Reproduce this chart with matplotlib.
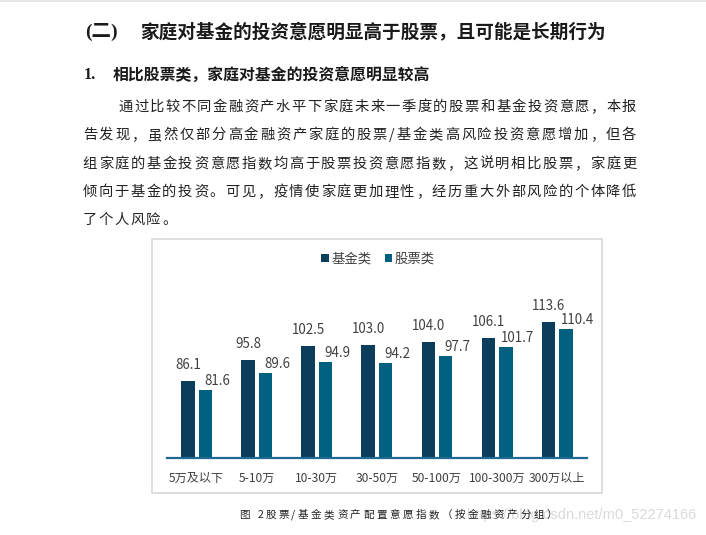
import matplotlib
matplotlib.use("Agg")
import matplotlib.pyplot as plt
import numpy as np
from matplotlib.patches import Rectangle, Patch
from matplotlib.lines import Line2D

plt.rcParams['font.family'] = ['Noto Sans CJK SC', 'DejaVu Sans']

categories = ["5万及以下", "5-10万", "10-30万", "30-50万", "50-100万", "100-300万", "300万以上"]
fund = [86.1, 95.8, 102.5, 103.0, 104.0, 106.1, 113.6]
stock = [81.6, 89.6, 94.9, 94.2, 97.7, 101.7, 110.4]
series_names = ["基金类", "股票类"]

heading_num = "(二)"
heading = "家庭对基金的投资意愿明显高于股票，且可能是长期行为"
sub_num = "1."
subheading = "相比股票类，家庭对基金的投资意愿明显较高"
para_lines = [
    "通过比较不同金融资产水平下家庭未来一季度的股票和基金投资意愿，本报",
    "告发现，虽然仅部分高金融资产家庭的股票/基金类高风险投资意愿增加，但各",
    "组家庭的基金投资意愿指数均高于股票投资意愿指数，这说明相比股票，家庭更",
    "倾向于基金的投资。可见，疫情使家庭更加理性，经历重大外部风险的个体降低",
    "了个人风险。",
]
caption = "图 2股票/基金类资产配置意愿指数（按金融资产分组）"
watermark = "https://blog.csdn.net/m0_52274166"

W, H = 706, 535
fig = plt.figure(figsize=(W / 100, H / 100), dpi=100)
fig.patch.set_facecolor("white")

def fx(x):
    return x / W

def fy(y):
    return 1 - y / H

# faint top line
fig.add_artist(Line2D([0, 1], [fy(0.8), fy(0.8)], color="#e6e6e6", lw=1.5))

TXT = "#1a1a1a"
fig.text(fx(85), fy(32), heading_num, family=['Liberation Serif', 'Noto Sans CJK SC'],
         weight='bold', fontsize=14.0, ha='left', va='center', color=TXT)
fig.text(fx(140), fy(32), heading, weight='bold', fontsize=13.4, ha='left', va='center', color=TXT)
fig.text(fx(84), fy(75), sub_num, family=['Liberation Serif', 'Noto Sans CJK SC'],
         weight='bold', fontsize=11.5, ha='left', va='center', color=TXT)
fig.text(fx(113), fy(75), subheading, weight='bold', fontsize=11.4, ha='left', va='center', color=TXT)

def justified(line, x0, x1, y, pitch=None, **kw):
    weights = [0.5 if ord(c) < 128 else 1.0 for c in line]
    total = sum(weights)
    if pitch is None:
        pitch = (x1 - x0) / total
    x = x0
    for c, w in zip(line, weights):
        fig.text(fx(x + w * pitch / 2), fy(y), c, ha='center', va='center', **kw)
        x += w * pitch

para_y = [107, 135, 164, 192, 220]
para_kw = dict(fontsize=10.3, color="#222222")
justified(para_lines[0], 117.5, 637, para_y[0], **para_kw)
for i in range(1, 4):
    justified(para_lines[i], 82, 637, para_y[i], **para_kw)
justified(para_lines[4], 82, None, para_y[4], pitch=15.86, **para_kw)

# chart frame
fig.add_artist(Rectangle((fx(151.7), fy(493.3)), fx(602) - fx(151.7), fy(238.7) - fy(493.3),
                         transform=fig.transFigure, fill=False, edgecolor="#d9d9d9", lw=1.2))

# axes
px_per_unit = 2.135
ax_left, ax_right = 166.5, 587.3
ax_bottom, ax_top = 457.7, 290.0
ymin = 50
ymax = ymin + (ax_bottom - ax_top) / px_per_unit
ax = fig.add_axes([fx(ax_left), fy(ax_bottom), fx(ax_right) - fx(ax_left), fy(ax_top) - fy(ax_bottom)])
ax.set_facecolor("none")

FUND_C = "#0c3e5c"
STOCK_C = "#00607f"
x = np.arange(len(categories))
off, bw = 0.145, 0.225
ax.bar(x - off, fund, bw, color=FUND_C, label=series_names[0], zorder=2)
ax.bar(x + off, stock, bw, color=STOCK_C, label=series_names[1], zorder=2)
ax.set_xlim(-0.5, len(categories) - 0.5)
ax.set_ylim(ymin, ymax)
for s in ["top", "left", "right"]:
    ax.spines[s].set_visible(False)
ax.spines["bottom"].set_color("#1f6a93")
ax.spines["bottom"].set_linewidth(1.6)
ax.spines["bottom"].set_zorder(3)
ax.set_yticks([])
ax.set_xticks(x)
ax.set_xticklabels(categories, fontsize=8.7, color="#404040")
ax.tick_params(axis='x', length=0, pad=10.5)

LBL = "#404040"
for xi, v in zip(x, fund):
    ax.annotate(f"{v:.1f}", (xi - off, v), xytext=(0, 16), textcoords='offset pixels',
                ha='center', va='center', fontsize=9.6, color=LBL)
for xi, v in zip(x, stock):
    ax.annotate(f"{v:.1f}", (xi + off, v), xytext=(12, 9), textcoords='offset pixels',
                ha='center', va='center', fontsize=9.6, color=LBL)

handles = [Patch(facecolor=FUND_C), Patch(facecolor=STOCK_C)]
fig.legend(handles, series_names, loc='center', bbox_to_anchor=(fx(378), fy(259)),
           ncol=2, frameon=False, fontsize=9.6, handlelength=0.55, handleheight=0.55,
           handletextpad=0.2, columnspacing=1.0, labelcolor="#404040")

# watermark and caption
fig.text(fx(696), fy(515), watermark, family=['Liberation Sans'], fontsize=10.5,
         color="#dadada", ha='right', va='center')
justified(caption, 237.7, 558, 515, fontsize=7.6, color="#222222")

fig.savefig("out.png", dpi=100, facecolor="white")
